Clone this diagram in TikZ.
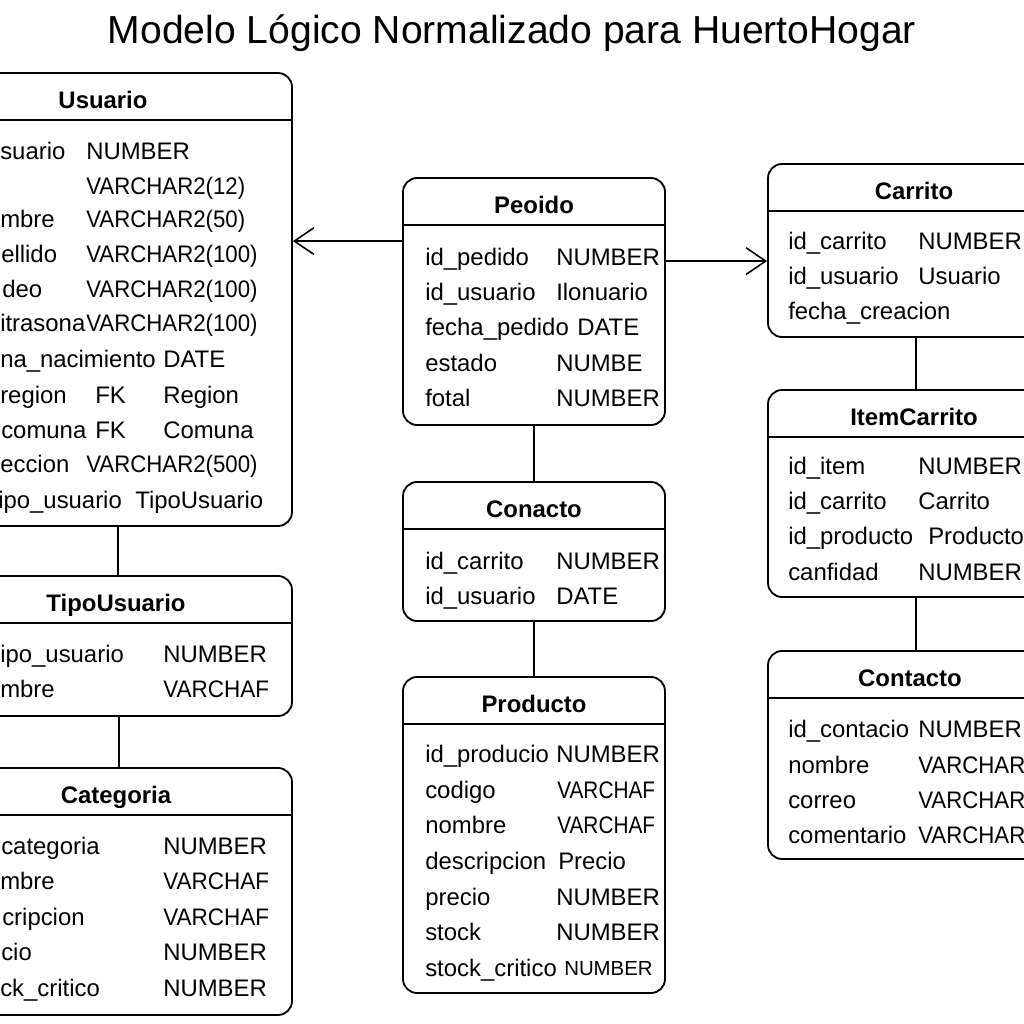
\documentclass[tikz,border=0pt]{standalone}
\usepackage{fontspec}
\setmainfont{Liberation Sans}
\usetikzlibrary{arrows.meta, positioning, calc}

\newcommand{\fila}{\fontsize{17}{20}\selectfont}
\newcommand{\filachica}{\fontsize{14.5}{17}\selectfont}
\newcommand{\angosto}[2]{\scalebox{#1}[1]{#2}}

\begin{document}
\begin{tikzpicture}[x=0.025cm, y=-0.025cm,
    tabla/.style={draw, line width=1.3pt, rounded corners=10pt, inner sep=0pt},
    titulo/.style={anchor=base, inner sep=0pt, font=\fila\bfseries},
    campo/.style={anchor=base west, inner sep=0pt, font=\fila},
    enlace/.style={line width=1.1pt},
    flecha/.style={line width=1.1pt, -{Straight Barb[length=14pt, width=19pt, line width=1.1pt]}}]
    \useasboundingbox (0,0) rectangle (1024,1024);
    \clip (0,0) rectangle (1024,1024);

    % Titulo
    \node[anchor=base, inner sep=0pt, font=\fontsize{27.8}{32}\selectfont] (encabezado) at (512,44)
        {Modelo Lógico Normalizado para HuertoHogar};

    % Tablas
    \node[tabla, minimum width=378*0.025cm, minimum height=453*0.025cm] (usuario) at (103,299.5) {};
    \node[tabla, minimum width=352*0.025cm, minimum height=140*0.025cm] (tipo) at (116,646) {};
    \node[tabla, minimum width=352*0.025cm, minimum height=247*0.025cm] (categoria) at (116,891.5) {};
    \node[tabla, minimum width=262*0.025cm, minimum height=247*0.025cm] (pedido) at (534,301.5) {};
    \node[tabla, minimum width=262*0.025cm, minimum height=139*0.025cm] (conacto) at (534,551.5) {};
    \node[tabla, minimum width=262*0.025cm, minimum height=316*0.025cm] (producto) at (534,835) {};
    \node[tabla, minimum width=292*0.025cm, minimum height=173*0.025cm] (carrito) at (914,250.5) {};
    \node[tabla, minimum width=292*0.025cm, minimum height=207*0.025cm] (item) at (914,493.5) {};
    \node[tabla, minimum width=284*0.025cm, minimum height=208*0.025cm] (contacto) at (910,755) {};

    % Cabeceras
    \foreach \t/\nombre in {usuario/Usuario, tipo/TipoUsuario, categoria/Categoria,
                            pedido/Peoido, conacto/Conacto, producto/Producto,
                            carrito/Carrito, item/ItemCarrito, contacto/Contacto} {
        \draw[line width=1pt] ($(\t.north west)+(0,48)$) -- ($(\t.north east)+(0,48)$);
        \node[titulo] (\t-titulo) at ($(\t.north)+(0,36)$) {\nombre};
    }

    % Usuario
    \foreach \x/\y/\a [count=\i] in {0/151/suario, 0/219/mbre, 1/254/ellido, 2/289/deo,
            0/323/itrasona, 0/359/na\_nacimiento, 0/395/region, 1/430/comuna,
            0/464/eccion, -2/500/ipo\_usuario}
        \node[campo] (usuario-a\i) at (\x,\y+8.5) {\a};
    \foreach \x/\y/\b [count=\i] in {86/151/NUMBER, 86/186/\angosto{0.93}{VARCHAR2(12)},
            86/219/\angosto{0.93}{VARCHAR2(50)}, 86/254/\angosto{0.93}{VARCHAR2(100)},
            86/289/\angosto{0.93}{VARCHAR2(100)}, 86/323/\angosto{0.93}{VARCHAR2(100)},
            163/359/DATE, 163/395/Region, 163/430/Comuna,
            86/464/\angosto{0.93}{VARCHAR2(500)}, 135/500/TipoUsuario}
        \node[campo] (usuario-b\i) at (\x,\y+8.5) {\b};
    \node[campo] (usuario-fk1) at (95,395+8.5) {FK};
    \node[campo] (usuario-fk2) at (95,430+8.5) {FK};

    % TipoUsuario
    \foreach \x/\y/\a/\b [count=\i] in {0/654/ipo\_usuario/NUMBER,
            0/689/mbre/\angosto{0.94}{VARCHAF}} {
        \node[campo] (tipo-a\i) at (\x,\y+8.5) {\a};
        \node[campo] (tipo-b\i) at (163,\y+8.5) {\b};
    }

    % Categoria
    \foreach \x/\y/\a/\b [count=\i] in {1/846/categoria/NUMBER, 0/881/mbre/\angosto{0.94}{VARCHAF},
            2/917/cripcion/\angosto{0.94}{VARCHAF}, 1/952/cio/NUMBER, 0/988/ck\_critico/NUMBER} {
        \node[campo] (categoria-a\i) at (\x,\y+8.5) {\a};
        \node[campo] (categoria-b\i) at (163,\y+8.5) {\b};
    }

    % Peoido
    \foreach \y/\a/\x/\b [count=\i] in {257/id\_pedido/556/NUMBER, 292/id\_usuario/556/Ilonuario,
            327/fecha\_pedido/577/DATE, 363/estado/556/NUMBE, 398/fotal/556/NUMBER} {
        \node[campo] (pedido-a\i) at (425,\y+8.5) {\a};
        \node[campo] (pedido-b\i) at (\x,\y+8.5) {\b};
    }

    % Conacto
    \foreach \y/\a/\b [count=\i] in {561/id\_carrito/NUMBER, 596/id\_usuario/DATE} {
        \node[campo] (conacto-a\i) at (425,\y+8.5) {\a};
        \node[campo] (conacto-b\i) at (556,\y+8.5) {\b};
    }

    % Producto
    \foreach \y/\a/\x/\b [count=\i] in {754/id\_producio/556/NUMBER,
            790/codigo/557/\angosto{0.87}{VARCHAF}, 825/nombre/557/\angosto{0.87}{VARCHAF},
            861/descripcion/558/Precio, 897/precio/556/NUMBER, 932/stock/556/NUMBER} {
        \node[campo] (producto-a\i) at (425,\y+8.5) {\a};
        \node[campo] (producto-b\i) at (\x,\y+8.5) {\b};
    }
    \node[campo] (producto-a7) at (425,968+8.5) {stock\_critico};
    \node[campo, font=\filachica] (producto-b7) at (564,968+7.5) {NUMBER};

    % Carrito
    \foreach \y/\a/\b [count=\i] in {241/id\_carrito/NUMBER, 276/id\_usuario/Usuario,
            311/fecha\_creacion/{}} {
        \node[campo] (carrito-a\i) at (788,\y+8.5) {\a};
        \node[campo] (carrito-b\i) at (918,\y+8.5) {\b};
    }

    % ItemCarrito
    \foreach \y/\a/\x/\b [count=\i] in {466/id\_item/918/NUMBER, 501/id\_carrito/918/Carrito,
            536/id\_producto/928/Producto, 572/canfidad/918/NUMBER} {
        \node[campo] (item-a\i) at (788,\y+8.5) {\a};
        \node[campo] (item-b\i) at (\x,\y+8.5) {\b};
    }

    % Contacto
    \foreach \y/\a/\b [count=\i] in {729/id\_contacio/NUMBER, 765/nombre/\angosto{0.93}{VARCHAR},
            800/correo/\angosto{0.93}{VARCHAR}, 835/comentario/\angosto{0.93}{VARCHAR}} {
        \node[campo] (contacto-a\i) at (788,\y+8.5) {\a};
        \node[campo] (contacto-b\i) at (918,\y+8.5) {\b};
    }

    % Relaciones
    \coordinate (p-usu) at ($(pedido.north west)+(0,64)$);
    \coordinate (p-car) at ($(pedido.north east)+(0,84)$);
    \draw[flecha] (p-usu) -- (p-usu -| usuario.east);
    \draw[flecha] (p-car) -- (p-car -| carrito.west);
    \draw[enlace] ([xshift=2*0.025cm]tipo.north |- usuario.south) -- ([xshift=2*0.025cm]tipo.north);
    \draw[enlace] ([xshift=3*0.025cm]tipo.south) -- ([xshift=3*0.025cm]categoria.north);
    \draw[enlace] (pedido.south) -- (conacto.north);
    \draw[enlace] (conacto.south) -- (producto.north);
    \draw[enlace] ([xshift=2*0.025cm]carrito.south) -- ([xshift=2*0.025cm]item.north);
    \draw[enlace] ([xshift=2*0.025cm]item.south) -- ([xshift=2*0.025cm]item.south |- contacto.north);
\end{tikzpicture}
\end{document}
